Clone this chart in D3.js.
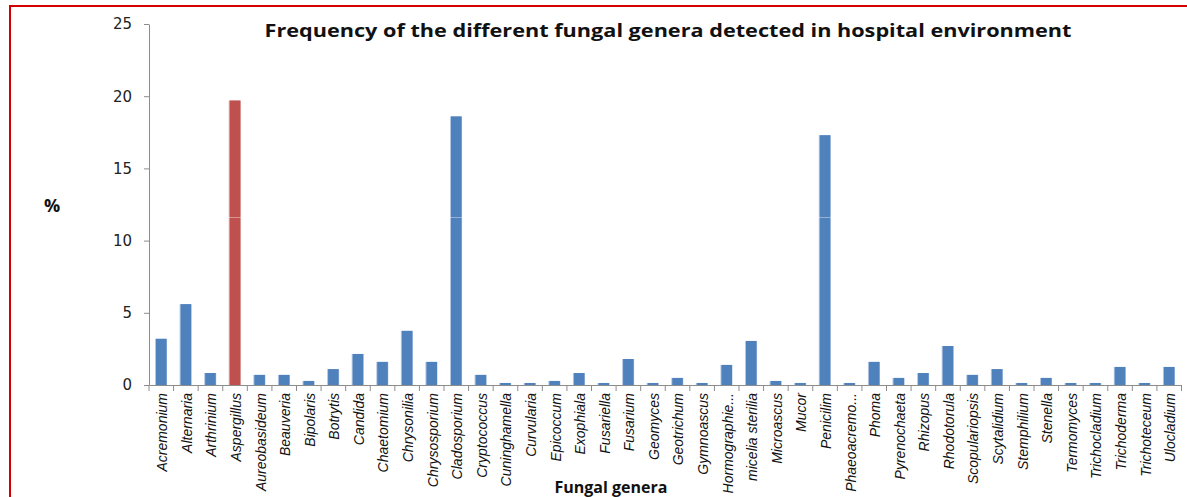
<!DOCTYPE html>
<html>
<head>
<meta charset="utf-8">
<script src="https://cdn.jsdelivr.net/npm/d3@7"></script>
<style>
  html, body { margin: 0; padding: 0; background: #fff; overflow: hidden; }
  svg { display: block; }
</style>
</head>
<body>
<div id="chart"></div>
<script>
// CHART DATA
const genera = [
  "Acremonium", "Alternaria", "Arthrinium", "Aspergillus", "Aureobasideum",
  "Beauveria", "Bipolaris", "Botrytis", "Candida", "Chaetomium",
  "Chrysonilia", "Chrysosporium", "Cladosporium", "Cryptococcus", "Cuninghamella",
  "Curvularia", "Epicoccum", "Exophiala", "Fusariella", "Fusarium",
  "Geomyces", "Geotrichum", "Gymnoascus", "Hormographie...", "micelia sterilia",
  "Microascus", "Mucor", "Penicilim", "Phaeoacremo...", "Phoma",
  "Pyrenochaeta", "Rhizopus", "Rhodotorula", "Scopulariopsis", "Scytalidium",
  "Stemphilium", "Stenella", "Termomyces", "Trichocladium", "Trichoderma",
  "Trichoteceum", "Ulocladium"
];
const frequency = [
  3.2, 5.6, 0.83, 19.7, 0.7,
  0.7, 0.28, 1.1, 2.15, 1.6,
  3.75, 1.6, 18.6, 0.7, 0.14,
  0.14, 0.28, 0.83, 0.14, 1.8,
  0.14, 0.49, 0.14, 1.39, 3.05,
  0.28, 0.14, 17.3, 0.14, 1.6,
  0.49, 0.83, 2.7, 0.7, 1.1,
  0.14, 0.49, 0.14, 0.14, 1.25,
  0.14, 1.25
];
const highlighted = ["Aspergillus"];
const yTicks = [0, 5, 10, 15, 20, 25];

const chartTitle = "Frequency of the different fungal genera detected in hospital environment";
const yTitle = "%";
const xTitle = "Fungal genera";

// SIZE / LAYOUT
const width = 1187;
const height = 497;
const plotLeft = 149, plotRight = 1181.5, plotTop = 24, plotBottom = 385;

const svg = d3.select("#chart")
    .append("svg")
    .attr("width", width)
    .attr("height", height);

// red frame: only the left and top edges are visible
svg.append("path")
    .attr("d", `M10,${height + 5} L10,6 L${width + 5},6`)
    .attr("fill", "none")
    .attr("stroke", "#d40000")
    .attr("stroke-width", 2);

const x = d3.scaleBand()
    .domain(genera)
    .range([plotLeft, plotRight])
    .paddingInner(0.57)
    .paddingOuter(0.285);

const y = d3.scaleLinear()
    .domain([0, 25])
    .range([plotBottom, plotTop]);

const rows = genera.map((g, i) => ({ name: g, value: frequency[i] }));

// BARS (light edge behind, then fill)
svg.append("g").selectAll("rect")
    .data(rows)
    .join("rect")
    .attr("x", d => x(d.name) - 1)
    .attr("width", x.bandwidth() + 1.5)
    .attr("y", d => y(d.value))
    .attr("height", d => y(0) - y(d.value))
    .attr("fill", d => highlighted.includes(d.name) ? "#dba9a8" : "#b3c7e3");

svg.append("g").selectAll("rect")
    .data(rows)
    .join("rect")
    .attr("x", d => x(d.name))
    .attr("width", x.bandwidth())
    .attr("y", d => y(d.value))
    .attr("height", d => y(0) - y(d.value))
    .attr("fill", d => highlighted.includes(d.name) ? "#c0504d" : "#4f81bd");

// faint line across tall bars
svg.append("line")
    .attr("x1", plotLeft).attr("x2", plotRight)
    .attr("y1", y(11.6)).attr("y2", y(11.6))
    .attr("stroke", "rgba(255,255,255,0.4)");

// Y AXIS
const yAxis = svg.append("g")
    .attr("transform", `translate(${plotLeft},0)`)
    .call(d3.axisLeft(y).tickValues(yTicks).tickSize(5).tickPadding(12).tickSizeOuter(0));
yAxis.select(".domain").attr("stroke", "#8c8c8c");
yAxis.selectAll(".tick line").attr("stroke", "#8c8c8c");
yAxis.selectAll(".tick text")
    .attr("font-family", "'DejaVu Sans', Verdana, sans-serif")
    .attr("font-size", 15)
    .attr("fill", "#222");

// X AXIS
const xAxis = svg.append("g")
    .attr("transform", `translate(0,${plotBottom})`)
    .call(d3.axisBottom(x).tickSize(0).tickSizeOuter(0).tickPadding(8));
xAxis.select(".domain").attr("stroke", "#8c8c8c");
xAxis.selectAll(".tick text")
    .attr("font-family", "'Liberation Sans', Arial, sans-serif")
    .attr("font-style", "italic")
    .attr("font-size", 14)
    .attr("fill", "#111")
    .attr("text-anchor", "end")
    .attr("transform", "translate(1,0) rotate(-90)")
    .attr("x", -8)
    .attr("y", 0)
    .attr("dy", "0.35em");

// tick marks between categories
const edges = genera.map(g => x(g) - x.step() * 0.285).concat([plotRight]);
svg.append("g").selectAll("line")
    .data(edges)
    .join("line")
    .attr("x1", d => d).attr("x2", d => d)
    .attr("y1", plotBottom).attr("y2", plotBottom + 6)
    .attr("stroke", "#8c8c8c");

// TITLES
svg.append("text")
    .attr("x", 668).attr("y", 37)
    .attr("text-anchor", "middle")
    .attr("font-family", "'Open Sans', 'Liberation Sans', sans-serif")
    .attr("font-weight", "bold")
    .attr("font-size", 17)
    .attr("textLength", 807)
    .attr("lengthAdjust", "spacingAndGlyphs")
    .attr("fill", "#111")
    .text(chartTitle);

svg.append("text")
    .attr("x", 52).attr("y", 212)
    .attr("text-anchor", "middle")
    .attr("font-family", "'Open Sans', sans-serif")
    .attr("font-weight", "bold")
    .attr("font-size", 18)
    .attr("fill", "#111")
    .text(yTitle);

svg.append("text")
    .attr("x", 611).attr("y", 493)
    .attr("text-anchor", "middle")
    .attr("font-family", "'Open Sans', sans-serif")
    .attr("font-weight", "bold")
    .attr("font-size", 16)
    .attr("fill", "#111")
    .text(xTitle);
</script>
</body>
</html>
